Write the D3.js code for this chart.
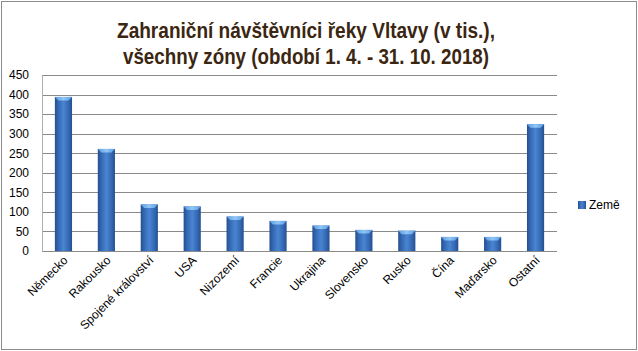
<!DOCTYPE html>
<html lang="cs">
<head>
<meta charset="UTF-8">
<title>Zahraniční návštěvníci řeky Vltavy</title>
<script src="https://d3js.org/d3.v7.min.js"></script>
<style>
  body { margin: 0; background: #fff; }
  svg { display: block; }
</style>
</head>
<body>
<svg width="638" height="351"></svg>
<script>
// data (thousands of visitors)
const countries = ["Německo", "Rakousko", "Spojené království", "USA", "Nizozemí", "Francie",
                   "Ukrajina", "Slovensko", "Rusko", "Čína", "Maďarsko", "Ostatní"];
const visitors = [394, 261, 119, 114, 88, 77, 65, 54, 52, 36, 36, 324];
const yTicks = [0, 50, 100, 150, 200, 250, 300, 350, 400, 450];
const titleLines = ["Zahraniční návštěvníci řeky Vltavy (v tis.),", "všechny zóny (období 1. 4. - 31. 10. 2018)"];
const seriesName = "Země";

const width = 638, height = 351;
const margin = {top: 75, right: 81, bottom: 100, left: 42};

const svg = d3.select("svg");

const defs = svg.append("defs");
const barGrad = defs.append("linearGradient").attr("id", "barGrad")
    .attr("x1", "0%").attr("x2", "100%").attr("y1", "0%").attr("y2", "0%");
barGrad.append("stop").attr("offset", "0%").attr("stop-color", "#244f8f");
barGrad.append("stop").attr("offset", "20%").attr("stop-color", "#3468b3");
barGrad.append("stop").attr("offset", "50%").attr("stop-color", "#4a85d2");
barGrad.append("stop").attr("offset", "80%").attr("stop-color", "#3468b3");
barGrad.append("stop").attr("offset", "100%").attr("stop-color", "#244f8f");

const capGrad = defs.append("linearGradient").attr("id", "capGrad")
    .attr("x1", "0%").attr("x2", "100%").attr("y1", "0%").attr("y2", "0%");
capGrad.append("stop").attr("offset", "0%").attr("stop-color", "#5c9be2");
capGrad.append("stop").attr("offset", "50%").attr("stop-color", "#8fc6f5");
capGrad.append("stop").attr("offset", "100%").attr("stop-color", "#5c9be2");

// outer frame
svg.append("rect")
    .attr("x", 1.5).attr("y", 1.5)
    .attr("width", width - 3).attr("height", height - 3)
    .attr("fill", "#fff").attr("stroke", "#8c8c8c").attr("stroke-width", 1);

const x = d3.scaleBand()
    .domain(countries)
    .range([margin.left, width - margin.right])
    .paddingInner(0.6).paddingOuter(0.3);

const y = d3.scaleLinear()
    .domain([0, 450])
    .range([height - margin.bottom, margin.top]);

// gridlines
svg.append("g")
    .selectAll("line")
    .data(yTicks)
    .join("line")
    .attr("x1", margin.left).attr("x2", width - margin.right)
    .attr("y1", d => Math.round(y(d)) + 0.5).attr("y2", d => Math.round(y(d)) + 0.5)
    .attr("stroke", "#8a8a8a").attr("stroke-width", 1);

// left axis line
svg.append("line")
    .attr("x1", margin.left + 0.5).attr("x2", margin.left + 0.5)
    .attr("y1", Math.round(y(450)) + 0.5).attr("y2", Math.round(y(0)) + 0.5)
    .attr("stroke", "#b0b0b0");

// y labels
const yAxis = svg.append("g")
    .attr("transform", `translate(${margin.left - 13},0)`)
    .call(d3.axisLeft(y).tickValues(yTicks).tickSize(0).tickPadding(0));
yAxis.select(".domain").remove();
yAxis.selectAll("text")
    .attr("font-family", "Liberation Sans, Arial, sans-serif")
    .attr("font-size", "12px").attr("fill", "#000");

// bars
const bars = svg.append("g");
bars.selectAll("rect")
    .data(countries)
    .join("rect")
    .attr("x", d => x(d))
    .attr("y", (d, i) => y(visitors[i]))
    .attr("width", x.bandwidth())
    .attr("height", (d, i) => y(0) - y(visitors[i]))
    .attr("fill", "url(#barGrad)");

// bevel cap on top of each bar
const capH = 3.5;
bars.selectAll("path")
    .data(countries)
    .join("path")
    .attr("d", (d, i) => {
        const x0 = x(d), x1 = x(d) + x.bandwidth(), t = y(visitors[i]);
        return `M${x0},${t}L${x1},${t}L${x1 - capH},${t + capH}L${x0 + capH},${t + capH}Z`;
    })
    .attr("fill", "url(#capGrad)");

// x labels, rotated
const xAxis = svg.append("g")
    .attr("transform", `translate(0,${y(0)})`)
    .call(d3.axisBottom(x).tickSize(0).tickPadding(0));
xAxis.select(".domain").remove();
xAxis.selectAll("text")
    .attr("font-family", "Liberation Sans, Arial, sans-serif")
    .attr("font-size", "12px").attr("fill", "#000")
    .attr("text-anchor", "end")
    .attr("dy", null)
    .attr("transform", "translate(5,10) rotate(-45)");

// title
svg.append("g")
    .selectAll("text")
    .data(titleLines)
    .join("text")
    .attr("x", 306)
    .attr("y", (d, i) => 38 + i * 26)
    .attr("text-anchor", "middle")
    .attr("font-family", "Liberation Sans Narrow, Arial Narrow, Liberation Sans, sans-serif")
    .attr("font-weight", "bold")
    .attr("font-size", "22px")
    .attr("fill", "#3b2612")
    .attr("textLength", (d, i) => i === 0 ? 378 : 366)
    .attr("lengthAdjust", "spacingAndGlyphs")
    .text(d => d);

// legend
const legend = svg.append("g").attr("transform", "translate(578,201)");
legend.append("rect")
    .attr("width", 8).attr("height", 8)
    .attr("fill", "url(#barGrad)");
legend.append("text")
    .attr("x", 11).attr("y", 8)
    .attr("font-family", "Liberation Sans, Arial, sans-serif")
    .attr("font-size", "12px").attr("fill", "#000")
    .text(seriesName);
</script>
</body>
</html>
